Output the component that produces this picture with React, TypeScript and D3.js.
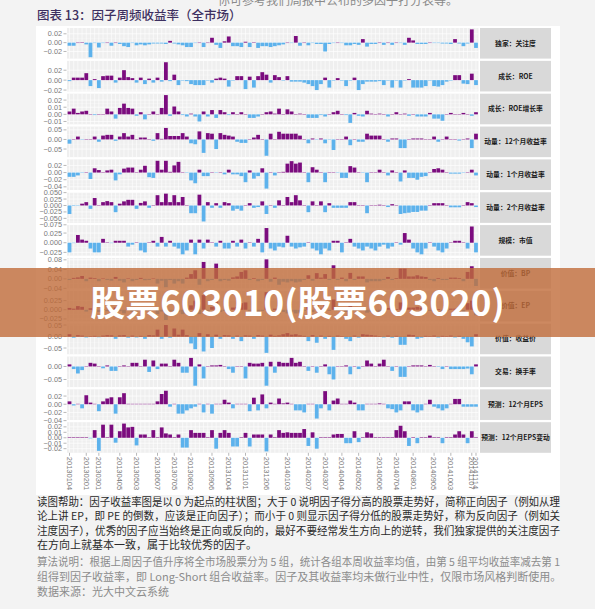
import React from 'react';
import * as d3 from 'd3';

const factorNames = ['独家：关注度','成长：ROE','成长：ROE增长率','动量：12个月收益率','动量：1个月收益率','动量：2个月收益率','规模：市值','价值：BP','价值：EP','价值：收益价','交易：换手率','预测：12个月EPS','预测：12个月EPS变动'];

const attention = [-0.007,-0.007,0,0.001,-0.004,-0.033,-0.001,-0.011,-0.001,0,-0.007,0,-0.003,-0.008,-0.01,-0.001,-0.006,-0.004,-0.006,-0.004,-0.002,-0.002,-0.002,-0.003,0.004,-0.002,-0.004,-0.006,-0.01,-0.01,-0.001,0,-0.01,0,0.011,-0.005,-0.012,0.003,0.014,-0.008,-0.008,-0.01,0.002,-0.01,0.001,-0.012,-0.008,-0.008,-0.01,-0.008,-0.006,-0.004,0,-0.001,0.015,-0.007,0,-0.006,-0.001,-0.003,-0.003,-0.02,-0.003,-0.001,0,-0.001,-0.006,-0.006,-0.003,-0.005,0.008,-0.009,-0.003,-0.003,0,-0.005,0,-0.005,0,-0.001,-0.005,0.011,0.005,-0.003,-0.003,-0.003,0,-0.001,-0.001,-0.002,-0.002,-0.003,0.008,-0.002,-0.008,-0.002,0.03,-0.012];
const roe = [-0.002,0.005,0.005,0.005,0.014,-0.012,0.002,-0.016,0.008,0.009,0.009,-0.005,0.005,0.02,0.006,0.004,-0.005,0.005,-0.008,0.003,-0.005,0.005,-0.003,0.036,-0.002,0.011,-0.01,-0.001,-0.002,-0.008,-0.01,-0.01,-0.01,-0.001,-0.005,0.003,0.005,0.003,-0.013,-0.001,0.008,0.008,-0.018,0.007,-0.015,0.008,0.016,0.011,-0.005,0.01,0.006,-0.001,0.008,-0.003,-0.003,-0.003,-0.005,-0.008,-0.012,-0.02,-0.008,0.005,-0.015,-0.001,0.004,-0.001,-0.012,-0.001,0.005,-0.02,-0.008,-0.003,-0.003,-0.003,-0.002,-0.01,-0.001,-0.015,-0.001,-0.015,-0.001,0.002,-0.015,-0.015,-0.015,-0.012,-0.001,-0.012,-0.013,-0.01,-0.003,-0.001,0.01,0.01,-0.007,-0.008,0.013,-0.01];
const roeGrowth = [0.004,0.008,0.002,0.004,0.005,0,-0.001,0,0,0.008,0.004,-0.006,0.009,0.015,0.009,0.008,-0.002,0.003,-0.007,0,0.004,0,0.009,0.027,-0.002,0.011,0.004,-0.001,-0.003,0.001,-0.003,-0.01,0.004,-0.003,0.006,-0.005,0.006,0.003,-0.001,0.003,0,0.003,0,-0.005,-0.005,-0.003,0,0.003,0.004,0.001,0.008,0,0.007,0.004,0,0.001,0,-0.005,-0.005,-0.005,-0.001,-0.003,0,0.003,0.005,0,-0.001,-0.012,0.002,-0.002,-0.003,0.005,0.001,0,0.001,0,-0.003,0,0.003,0,0.001,-0.002,0,-0.003,-0.003,-0.003,0.002,-0.006,-0.006,-0.009,0,0.002,0,0,0.002,0,-0.002,0.003];
const mom12m = [-0.022,0.002,0.015,-0.002,0.001,0.002,0.015,-0.012,0.02,0.024,0.024,-0.007,0.015,0.033,0.015,0.024,0.001,0.01,0.01,0.001,-0.007,0.033,0.003,0.06,0.018,0.018,0.018,0.033,0.015,-0.02,-0.025,0.042,-0.07,0.033,0.03,-0.05,0.033,0.024,0.02,0.015,-0.012,-0.018,-0.018,0.001,0.01,0.024,0.001,-0.085,0.03,0.001,0.04,0.03,0.03,0.03,0.03,0.02,0.001,-0.02,0.005,-0.001,0.005,-0.02,-0.002,-0.055,0.001,0.001,0.015,-0.03,0.001,-0.012,-0.012,0.03,0.02,0.02,0.02,0.001,-0.012,0.005,0.005,-0.045,-0.045,0.001,0.005,0.005,0.005,0.001,0.001,0.015,-0.012,0.001,0.015,0.001,0.001,-0.006,0.001,0.005,-0.045,0.03];
const mom1m = [-0.012,-0.012,-0.008,-0.001,0.001,-0.018,0.012,0.007,0.001,0.006,0.008,-0.022,-0.005,0.011,0.014,0.014,0.001,0.008,0.019,-0.013,-0.015,0.033,0.008,0.033,0.002,0.02,0.03,0.001,-0.001,-0.022,-0.03,0.008,-0.01,-0.01,0.001,-0.001,0.001,-0.005,0.008,-0.005,-0.005,-0.01,-0.027,0.006,-0.017,-0.01,0.012,-0.045,0.001,-0.008,0.001,0.002,0.025,0.032,0.025,0.028,0.001,-0.027,0.015,0.008,0.001,-0.027,0.001,0.001,-0.001,-0.015,-0.015,0.018,0.014,0.001,-0.001,-0.027,0.001,0.001,0.008,0.001,-0.008,0.006,0.001,-0.025,0.006,-0.015,-0.015,-0.02,-0.012,-0.01,0.001,0.01,0.012,0.008,0.001,-0.003,-0.003,-0.003,-0.001,0.001,0.008,-0.008];
const mom2m = [-0.033,-0.002,-0.001,0.007,0.013,-0.013,0.029,0.001,0.013,0.017,0.013,-0.026,0.007,0.016,0.022,0.022,-0.013,0.01,0.016,-0.009,0.001,0.04,0.013,0.046,0.013,0.04,0.013,0.033,0.001,-0.03,-0.03,0.042,-0.062,0.013,-0.009,0.009,-0.009,0.013,0.009,-0.02,-0.013,-0.02,0.001,0.009,-0.009,-0.006,0.016,-0.033,0.001,-0.009,0.02,0.001,0.033,0.013,0.04,0.02,0.001,-0.026,0.016,0.001,0.016,-0.026,0.009,-0.009,-0.009,-0.009,-0.009,0.013,0.013,0.001,0.001,-0.03,0.001,0.001,0.003,0.001,-0.006,0.005,0.001,-0.033,-0.03,-0.028,-0.025,-0.025,-0.02,-0.02,0.001,0.009,0.009,0.009,0.001,-0.007,-0.007,-0.007,0.001,0.013,0.009,-0.006];
const size = [-0.025,-0.001,0.02,0.008,0.005,-0.015,-0.025,-0.025,0.01,0.001,-0.001,0.005,0.005,0.005,-0.01,-0.005,0.001,-0.02,-0.025,0.001,0.005,-0.01,0.015,-0.01,0.005,-0.01,-0.015,-0.03,-0.02,0.008,-0.03,0.008,-0.015,0.008,0.001,-0.01,0.005,-0.015,-0.015,0.005,-0.01,0.008,-0.015,0.001,-0.01,0.01,-0.025,0.038,-0.015,-0.02,-0.01,-0.012,0.018,-0.01,-0.015,-0.012,-0.01,0.001,-0.015,-0.02,-0.03,-0.015,-0.02,0.005,0.005,-0.025,0.001,0.01,-0.01,-0.015,-0.02,-0.01,-0.015,-0.02,-0.01,-0.005,-0.015,-0.01,0.001,-0.005,0.025,0.008,-0.015,-0.025,-0.03,-0.015,0.001,-0.01,-0.02,-0.025,-0.015,0.001,0.005,0.005,0.001,-0.015,0.042,-0.025];
const bp = [-0.005,0.004,0.006,0.012,-0.01,0.005,0.003,-0.01,0.002,-0.005,-0.008,0.008,-0.008,-0.015,0.002,-0.01,-0.005,0.004,-0.006,-0.005,0.002,-0.02,-0.008,-0.035,-0.005,-0.02,-0.01,-0.02,0.005,0.02,0.036,-0.025,0.071,-0.01,-0.005,0.064,-0.01,-0.005,-0.008,0.006,0.01,0.029,0.036,-0.005,0.003,-0.01,-0.005,0.082,-0.012,0.005,-0.025,-0.012,-0.015,-0.01,-0.015,-0.012,-0.005,0.015,-0.008,0.024,0.005,0.02,-0.005,0.057,-0.005,0.005,-0.01,0.025,-0.005,0.01,0.01,-0.015,-0.01,-0.01,-0.01,-0.005,0.008,-0.005,0.003,0.043,0.043,0.01,0.01,0.015,0.01,0.008,-0.005,-0.01,0.003,-0.005,-0.005,0.005,0.005,0.003,-0.01,0.029,0.053,-0.03];
const ep = [0.005,0.003,0.01,0.008,-0.005,0.004,0.002,-0.006,0.002,-0.004,-0.005,0.006,-0.004,-0.01,0.003,-0.006,-0.004,0.003,-0.004,-0.003,0.002,-0.012,-0.005,-0.028,-0.003,-0.012,-0.006,-0.012,0.003,0.012,0.025,-0.012,0.04,-0.006,0.008,0.035,-0.006,-0.003,-0.005,0.006,0.008,0.018,0.02,-0.003,0.002,-0.006,-0.003,0.048,-0.006,0.003,-0.012,-0.006,-0.01,-0.006,-0.01,-0.008,-0.003,0.008,-0.006,0.015,0.003,0.012,-0.003,0.028,-0.003,0.003,-0.006,0.015,-0.003,0.006,0.006,-0.008,-0.006,-0.006,-0.006,-0.003,0.005,-0.003,0.002,0.02,0.02,0.006,0.006,0.008,0.006,0.005,-0.003,-0.006,0.002,-0.003,-0.003,0.003,0.003,0.002,-0.006,0.018,0.025,-0.015];
const earnPrice = [0.01,-0.005,0.006,0.004,-0.004,0.002,0.003,-0.003,0.004,0.006,0.005,-0.01,0.005,0.006,-0.005,0.004,-0.004,0.003,-0.01,0.006,0.005,0.03,-0.01,0.05,-0.005,0.035,0.008,0.03,0.006,-0.03,-0.055,0.015,-0.065,0.01,-0.05,0.008,-0.01,0.006,0.005,-0.01,0.004,-0.02,0.005,0.004,-0.01,0.006,0.004,-0.071,0.008,0.003,0.005,0.01,0.015,0.008,0.01,0.005,0.003,-0.02,0.006,-0.027,0.004,-0.01,0.003,-0.058,0.004,0.002,-0.01,-0.02,0.004,-0.005,0.01,0.008,0.006,0.004,0.002,-0.004,0.004,-0.005,0.003,-0.036,-0.036,0.008,0.006,-0.01,-0.005,0.003,0.002,0.004,-0.004,0.003,0.002,0.004,-0.004,0.003,-0.01,-0.025,-0.043,0.01];
const turnover = [0.008,-0.01,-0.027,-0.014,0.001,0.014,0.011,0.001,-0.007,0.004,-0.017,-0.017,0.001,0.004,0.001,0.014,0.014,0.001,0.026,-0.021,0.023,-0.01,0.011,0.011,0.001,0.026,0.014,-0.024,-0.024,0.033,-0.074,0.008,-0.046,0.001,0.004,0.004,0.006,0.001,-0.01,-0.024,0.001,0.001,-0.046,0.014,0.011,0.011,0.014,-0.074,0.018,-0.024,0.018,0.014,0.014,0.033,0.014,0.018,0.001,-0.017,0.001,-0.024,0.001,0.008,-0.03,-0.05,0.001,0.001,0.004,-0.03,0.001,-0.01,0.001,0.023,0.011,0.001,0.011,0.026,0.001,-0.017,0.001,-0.04,-0.04,0.001,0.004,0.004,0.004,0.001,0.006,0.001,-0.002,-0.01,0.001,-0.01,-0.01,-0.01,-0.01,-0.008,-0.03,0.008];
const eps12m = [0.007,-0.003,0.001,-0.01,0.022,0.004,0.001,-0.017,0.007,0.014,0.017,-0.023,0.017,0.027,0.001,0.001,0.001,0.001,0.001,0.001,0.001,0.007,0.025,0.033,-0.006,0.001,-0.023,-0.023,-0.015,-0.01,-0.006,0.001,-0.02,0.001,-0.023,0.001,0.001,0.011,0.004,-0.01,0.001,0.001,0.001,-0.017,0.016,-0.015,0.024,-0.01,0.004,0.001,0.014,0.002,0.004,0.001,-0.015,-0.015,-0.02,0.001,0.001,-0.035,-0.01,0.032,-0.015,0.009,0.014,0.001,0.001,0.009,0.004,-0.015,-0.015,0.001,0.001,0.001,0.002,0.001,-0.01,-0.012,-0.02,-0.015,0.007,0.007,-0.015,-0.02,-0.015,0.001,0.011,-0.006,-0.01,-0.015,-0.01,0.001,0.013,0.013,-0.006,-0.006,-0.006,-0.006];
const eps12mChg = [0.001,0.001,0.001,0.001,0.001,-0.001,0.014,-0.024,0.024,0.001,0.024,-0.009,0.012,0.026,0.019,0.02,-0.014,0.006,0.006,0.001,0.014,0.001,0.019,0.008,0.006,0.001,0.006,-0.018,-0.018,0.014,0.009,0.009,0.009,0.001,0.014,-0.02,0.009,0.014,0.009,-0.016,-0.016,0.001,0.009,-0.016,0.006,0.006,0.006,-0.025,0.006,0.001,0.014,0.009,0.01,0.009,0.009,0.009,0.016,-0.015,0.01,-0.02,0.001,0.001,0.001,0.006,0.007,0.007,-0.01,-0.01,0.012,-0.008,0.001,0.01,0.008,0.001,0.001,0.001,0.001,0.001,0.014,0.022,0.012,-0.015,0.001,-0.01,0.001,0.001,0.004,0.001,0.001,-0.01,0.001,0.001,0.006,0.012,0.006,-0.01,0.012,0.001];

const panelValues = [attention, roe, roeGrowth, mom12m, mom1m, mom2m, size, bp, ep, earnPrice, turnover, eps12m, eps12mChg];

const yTickValues = [
  [0.02, 0, -0.02],
  [0.02, 0, -0.02],
  [0.02, 0.01, 0, -0.01],
  [0.05, 0, -0.05],
  [0.02, 0, -0.02, -0.04],
  [0.05, 0.025, 0, -0.025, -0.05, -0.075],
  [0.025, 0, -0.025],
  [0.08, 0.04, 0, -0.04],
  [0.025, 0, -0.025],
  [0.05, 0, -0.05],
  [0, -0.05],
  [0.02, 0, -0.02, -0.04],
  [0.02, 0.01, 0, -0.01, -0.02],
];
const yTickDigits = [2, 2, 2, 2, 2, 3, 3, 2, 3, 2, 2, 2, 2];

const weekTickIndex = [0, 4, 7, 12, 16, 21, 25, 29, 34, 38, 42, 47, 52, 57, 61, 65, 69, 74, 78, 82, 87, 91, 96, 97];
const weekTickLabels = ['20130104','20130201','20130301','20130405','20130503','20130607','20130705','20130802','20130906','20131004','20131101','20131206','20140103','20140207','20140307','20140404','20140502','20140606','20140704','20140801','20140905','20141003','20141107','20141114'];

const helpLines = [
  '读图帮助：因子收益率图是以 0 为起点的柱状图；大于 0 说明因子得分高的股票走势好，简称正向因子（例如从理',
  '论上讲 EP，即 PE 的倒数，应该是正向因子）；而小于 0 则显示因子得分低的股票走势好，称为反向因子（例如关',
  '注度因子），优秀的因子应当始终是正向或反向的，最好不要经常发生方向上的逆转，我们独家提供的关注度因子',
  '在方向上就基本一致，属于比较优秀的因子。',
];
const noteLines = [
  '算法说明：根据上周因子值升序将全市场股票分为 5 组，统计各组本周收益率均值，由第 5 组平均收益率减去第 1',
  '组得到因子收益率，即 Long-Short 组合收益率。因子及其收益率均未做行业中性，仅限市场风格判断使用。',
  '数据来源：光大中文云系统',
];

const W = 595, H = 609;
const plotLeft = 67, plotRight = 478.5;
const stripLeft = 480, stripRight = 551;
const panelTop0 = 28, panelPitch = 32.85, panelH = 30.6;
const POS = '#7b0c7e';
const NEG = '#5db2ec';
const CJK = '"Noto Sans CJK SC", "Noto Sans", sans-serif';
const SANS = '"Liberation Sans", Arial, sans-serif';

export default function App() {
  const N = attention.length;
  const x = d3.scaleBand<number>().domain(d3.range(N)).range([plotLeft, plotRight]).paddingInner(0.1).paddingOuter(0.15);
  const bw = x.bandwidth();
  const cx = (i: number) => (x(i) as number) + bw / 2;

  return (
    <svg width={W} height={H} viewBox={`0 0 ${W} ${H}`} style={{ position: 'absolute', left: 0, top: 0, display: 'block' }}>
      <rect x={0} y={0} width={W} height={H} fill="#f3f3f3" />
      <text x={218} y={5} fontFamily={CJK} fontSize={12} fill="#8a8a8a">你可参考我们周报中公布的多因子打分表等。</text>
      <text x={37} y={20} fontFamily={CJK} fontSize={12.5} fill="#3d2f60" fontWeight={500}>图表 13：因子周频收益率（全市场）</text>
      <rect x={36} y={26} width={524} height={469} fill="#ffffff" />
      {panelValues.map((vals, k) => {
        const top = panelTop0 + k * panelPitch;
        const [mn, mx] = d3.extent(vals) as [number, number];
        const lo = Math.min(mn, 0), hi = Math.max(mx, 0);
        const r = hi - lo;
        const y = d3.scaleLinear().domain([lo - 0.05 * r, hi + 0.05 * r]).range([top + panelH, top]);
        const ticks = yTickValues[k];
        const minor: number[] = [];
        for (let t = 0; t < ticks.length - 1; t++) minor.push((ticks[t] + ticks[t + 1]) / 2);
        const fmt = d3.format(`.${yTickDigits[k]}f`);
        return (
          <g key={k}>
            <rect x={plotLeft} y={top} width={plotRight - plotLeft} height={panelH} fill="#efefef" />
            {minor.map((t, j) => (
              <line key={'m' + j} x1={plotLeft} x2={plotRight} y1={y(t)} y2={y(t)} stroke="#fafafa" strokeWidth={0.4} />
            ))}
            {ticks.map((t, j) => (
              <line key={'g' + j} x1={plotLeft} x2={plotRight} y1={y(t)} y2={y(t)} stroke="#ffffff" strokeWidth={0.7} />
            ))}
            {d3.range(N).map((i) => (
              <line key={'v' + i} x1={cx(i)} x2={cx(i)} y1={top} y2={top + panelH} stroke="#ffffff" strokeWidth={0.6} />
            ))}
            {vals.map((v, i) => (
              <rect key={'b' + i} x={x(i)} width={bw} y={Math.min(y(v), y(0))} height={Math.max(0.4, Math.abs(y(v) - y(0)))} fill={v >= 0 ? POS : NEG} />
            ))}
            {ticks.map((t, j) => (
              <g key={'t' + j}>
                <line x1={63.5} x2={66.5} y1={y(t)} y2={y(t)} stroke="#888" strokeWidth={0.6} />
                <text x={62} y={y(t)} dy="0.35em" textAnchor="end" fontFamily={SANS} fontSize={7.3} fill="#7a7a7a">{fmt(t)}</text>
              </g>
            ))}
            <rect x={stripLeft} y={top} width={stripRight - stripLeft} height={panelH} fill="#d9d9d9" />
            <text x={(stripLeft + stripRight) / 2} y={top + panelH / 2} dy="0.35em" textAnchor="middle" fontFamily={CJK} fontSize={6.8} fontWeight={700} fill="#1a1a1a">{factorNames[k]}</text>
          </g>
        );
      })}
      {weekTickIndex.map((wi, j) => {
        const yb = panelTop0 + 12 * panelPitch + panelH;
        return (
          <g key={'xt' + j}>
            <line x1={cx(wi)} x2={cx(wi)} y1={yb} y2={yb + 3} stroke="#888" strokeWidth={0.6} />
            <text transform={`translate(${cx(wi)},${yb + 4}) rotate(90)`} dy="0.35em" fontFamily={SANS} fontSize={7.5} fill="#7a7a7a">{weekTickLabels[j]}</text>
          </g>
        );
      })}
      <rect x={0} y={268} width={W} height={69} fill="#c06c3a" opacity={0.8} />
      <text x={297.5} y={316} textAnchor="middle" fontFamily={CJK} fontSize={35} fontWeight={700} fill="#ffffff">股票603010(股票603020)</text>
      {helpLines.map((s, j) => (
        <text key={'h' + j} x={37} y={505.5 + j * 14.6} fontFamily={CJK} fontSize={11} fill="#2a2a2a" textLength={j < 3 ? 523 : undefined} lengthAdjust="spacingAndGlyphs">{s}</text>
      ))}
      {noteLines.map((s, j) => (
        <text key={'n' + j} x={37} y={565.5 + j * 15} fontFamily={CJK} fontSize={11} fill="#8c8c8c" textLength={j === 0 ? 523 : undefined} lengthAdjust="spacingAndGlyphs">{s}</text>
      ))}
    </svg>
  );
}
